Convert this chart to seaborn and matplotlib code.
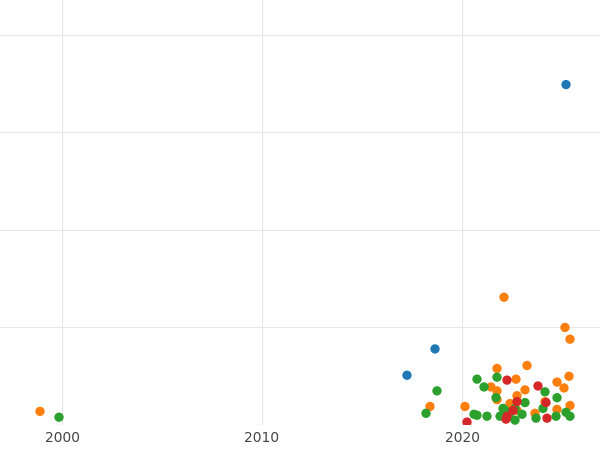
import pandas as pd
import matplotlib.pyplot as plt
import seaborn as sns

blue_x = [2025.2, 2018.65, 2017.25]
blue_y = [3.49, 0.78, 0.51]
orange_x = [1998.9, 2022.1, 2025.15, 2025.4, 2023.25, 2021.75, 2025.35, 2022.7, 2024.75,
            2021.45, 2025.1, 2021.75, 2023.15, 2018.4, 2020.15, 2022.75, 2021.75, 2022.4,
            2024.15, 2024.75, 2025.4, 2023.65, 2022.75]
orange_y = [0.14, 1.31, 1.0, 0.88, 0.61, 0.58, 0.5, 0.47, 0.44, 0.39, 0.38, 0.35, 0.36,
            0.19, 0.19, 0.30, 0.26, 0.22, 0.24, 0.16, 0.2, 0.12, 0.15]
green_x = [1999.85, 2018.75, 2018.2, 2020.75, 2021.75, 2021.1, 2021.7, 2024.75, 2024.15,
           2023.15, 2024.05, 2020.6, 2020.75, 2021.25, 2021.9, 2022.15, 2022.65, 2023.0,
           2022.35, 2022.65, 2023.7, 2024.7, 2025.2, 2025.4, 2022.05]
green_y = [0.08, 0.35, 0.12, 0.47, 0.49, 0.39, 0.28, 0.28, 0.34, 0.23, 0.17, 0.11, 0.10,
           0.09, 0.09, 0.15, 0.17, 0.11, 0.09, 0.05, 0.07, 0.09, 0.13, 0.09, 0.17]
red_x = [2020.25, 2022.25, 2023.8, 2024.2, 2022.75, 2022.25, 2022.2, 2024.25, 2022.55]
red_y = [0.03, 0.46, 0.4, 0.23, 0.24, 0.09, 0.06, 0.07, 0.15]

groups = ["A", "B", "C", "D"]
xs = [blue_x, orange_x, green_x, red_x]
ys = [blue_y, orange_y, green_y, red_y]
df = pd.concat([pd.DataFrame({"year": x, "value": y, "group": g})
                for g, x, y in zip(groups, xs, ys)], ignore_index=True)

sns.set_style("whitegrid", {"grid.color": "#e6e6e6", "axes.edgecolor": "white"})
fig = plt.figure(figsize=(6, 4.5), dpi=100)
ax = fig.add_axes([0, 25 / 450, 1, 425 / 450])
sns.scatterplot(data=df, x="year", y="value", hue="group", hue_order=groups,
                palette=["#1f77b4", "#ff7f0e", "#2ca02c", "#d62728"],
                s=45, linewidth=0, legend=False, ax=ax)
ax.set_xlim(1996.9, 2026.9)
ax.set_ylim(0.02, 4.357)
ax.set_xticks([2000, 2010, 2020])
ax.set_yticks([0, 1, 2, 3, 4])
ax.set_yticklabels([])
ax.tick_params(axis="y", length=0)
ax.tick_params(axis="x", length=0, labelsize=10, labelcolor="#444444", pad=4)
ax.set_xlabel("")
ax.set_ylabel("")
for s in ax.spines.values():
    s.set_visible(False)
fig.savefig("out.png", dpi=100)
